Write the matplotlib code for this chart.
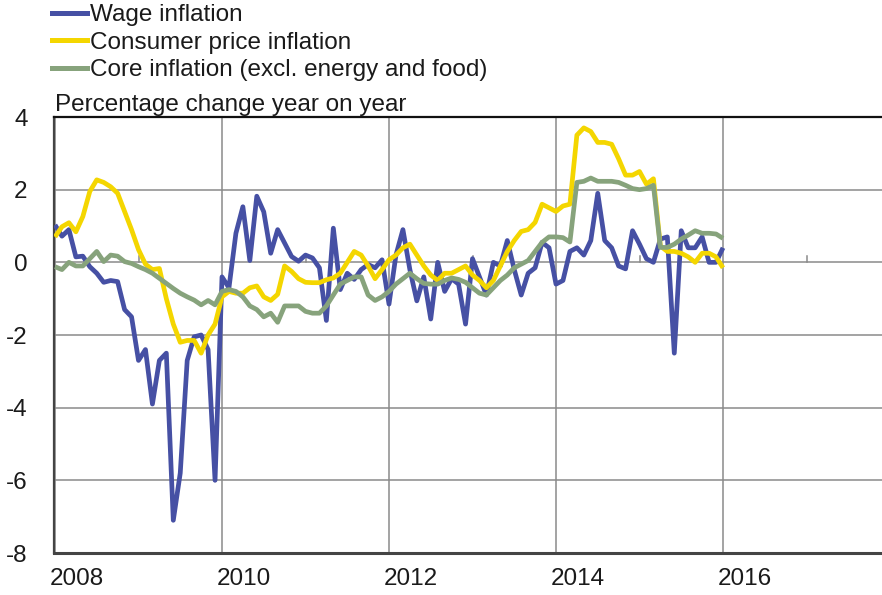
import numpy as np
import matplotlib
matplotlib.use("Agg")
import matplotlib.pyplot as plt
import matplotlib.transforms as mtransforms
from matplotlib.lines import Line2D

plt.rcParams['font.family'] = ['Liberation Sans', 'DejaVu Sans']

start_year = 2008
wage = [1.03, 0.72, 0.9, 0.15, 0.17, -0.12, -0.3, -0.55, -0.5, -0.53,
        -1.3, -1.5, -2.7, -2.4, -3.9, -2.7, -2.5, -7.1, -5.8, -2.7,
        -2.05, -2.0, -2.4, -6.0, -0.4, -0.7, 0.8, 1.53, 0.05, 1.82,
        1.39, 0.25, 0.9, 0.53, 0.16, 0.03, 0.2, 0.12, -0.15, -1.6,
        0.94, -0.75, -0.3, -0.47, -0.2, -0.06, -0.15, 0.07, -1.15, 0.2,
        0.9, -0.2, -1.06, -0.4, -1.56, 0.0, -0.8, -0.45, -0.6, -1.7,
        0.1, -0.4, -0.9, 0.0, -0.1, 0.6, -0.2, -0.9, -0.3, -0.15,
        0.55, 0.4, -0.6, -0.5, 0.3, 0.4, 0.2, 0.6, 1.9, 0.6,
        0.4, -0.1, -0.18, 0.87, 0.5, 0.1, 0.0, 0.64, 0.7, -2.5,
        0.87, 0.4, 0.4, 0.7, 0.0, 0.0, 0.4]
cpi = [0.7, 0.98, 1.09, 0.84, 1.26, 1.95, 2.27, 2.2, 2.08, 1.9,
       1.4, 0.9, 0.35, -0.05, -0.2, -0.17, -1.0, -1.7, -2.2, -2.15,
       -2.15, -2.5, -2.0, -1.7, -0.95, -0.8, -0.85, -0.85, -0.7, -0.65,
       -0.95, -1.05, -0.88, -0.1, -0.25, -0.45, -0.55, -0.56, -0.56, -0.48,
       -0.43, -0.3, 0.0, 0.3, 0.2, -0.1, -0.45, -0.2, 0.07, 0.2,
       0.4, 0.5, 0.2, -0.1, -0.35, -0.5, -0.3, -0.3, -0.2, -0.1,
       -0.35, -0.5, -0.7, -0.5, -0.1, 0.3, 0.6, 0.85, 0.9, 1.1,
       1.6, 1.5, 1.4, 1.55, 1.6, 3.5, 3.7, 3.6, 3.3, 3.3,
       3.25, 2.85, 2.4, 2.4, 2.5, 2.15, 2.3, 0.45, 0.3, 0.3,
       0.25, 0.15, 0.0, 0.25, 0.25, 0.15, -0.15]
core = [-0.12, -0.2, 0.0, -0.1, -0.1, 0.1, 0.3, 0.02, 0.2, 0.17,
        0.02, -0.03, -0.12, -0.2, -0.3, -0.44, -0.58, -0.72, -0.85, -0.95,
        -1.04, -1.17, -1.05, -1.17, -0.8, -0.75, -0.8, -0.95, -1.2, -1.3,
        -1.5, -1.4, -1.65, -1.2, -1.2, -1.2, -1.35, -1.4, -1.4, -1.2,
        -0.9, -0.6, -0.5, -0.4, -0.4, -0.9, -1.05, -0.95, -0.8, -0.6,
        -0.45, -0.3, -0.45, -0.58, -0.6, -0.6, -0.5, -0.43, -0.47, -0.55,
        -0.7, -0.85, -0.9, -0.7, -0.5, -0.35, -0.15, -0.05, 0.05, 0.3,
        0.55, 0.7, 0.7, 0.68, 0.56, 2.2, 2.23, 2.32, 2.23, 2.23,
        2.23, 2.2, 2.12, 2.03, 2.0, 2.03, 2.12, 0.41, 0.41, 0.5,
        0.64, 0.75, 0.87, 0.8, 0.8, 0.78, 0.66]

series_labels = ["Wage inflation", "Consumer price inflation",
                 "Core inflation (excl. energy and food)"]
series_colors = ["#4650A4", "#F4D600", "#87A37C"]
year_ticks = [2008, 2010, 2012, 2014, 2016]
y_ticks = [4, 2, 0, -2, -4, -6, -8]
ylabel = "Percentage change year on year"

W, H = 882, 595
fig = plt.figure(figsize=(W / 100, H / 100), dpi=100)
ax = fig.add_axes([54 / W, 42 / H, 828 / W, 436 / H])

t = start_year + np.arange(len(wage)) / 12.0
for i, (vals, col) in enumerate(zip([wage, cpi, core], series_colors)):
    ax.plot(t, vals, color=col, lw=3.4, solid_joinstyle='round',
            solid_capstyle='butt', zorder=3 + i)

ax.set_xlim(2008 - 1 / 83.5, 2008 + 827 / 83.5)
ax.set_ylim(-8, 4)

ax.set_yticks(y_ticks)
ax.set_yticklabels([str(v) for v in y_ticks])
ax.set_xticks(year_ticks)
ax.set_xticklabels([str(y) for y in year_ticks])
ax.tick_params(axis='both', length=0, labelsize=17.5, colors='#1a1a1a')
ax.tick_params(axis='y', pad=19)
ax.tick_params(axis='x', pad=11)
offset = mtransforms.ScaledTranslation(-5 / 100, 0, fig.dpi_scale_trans)
for lab in ax.get_xticklabels():
    lab.set_horizontalalignment('left')
    lab.set_transform(lab.get_transform() + offset)

ax.grid(True, color='#8a8a8a', lw=1.1, zorder=1)
ax.set_axisbelow(True)

# minor tick marks sitting on the zero line
for yr in range(2009, 2018, 2):
    ax.plot([yr, yr], [0, 0.17], color='#8a8a8a', lw=1.1, zorder=1)

ax.spines['right'].set_visible(False)
ax.spines['left'].set_color('#444444')
ax.spines['left'].set_linewidth(1.6)
ax.spines['bottom'].set_color('#444444')
ax.spines['bottom'].set_linewidth(2.2)
ax.spines['top'].set_color('#111111')
ax.spines['top'].set_linewidth(1.6)

ax.text(0.001, 1 + 6 / 436, ylabel, transform=ax.transAxes, ha='left',
        va='baseline', fontsize=17.5, color='#1a1a1a')

handles = [Line2D([], [], color=c, lw=3.6) for c in series_colors]
fig.legend(handles, series_labels, loc='upper left',
           bbox_to_anchor=(52 / W, 1 - 4 / H), frameon=False,
           fontsize=17.5, handlelength=1.45, handletextpad=0.12,
           labelspacing=0.23, borderpad=0.0, borderaxespad=0.0,
           labelcolor='#1a1a1a')

fig.savefig("out.png", dpi=100)
